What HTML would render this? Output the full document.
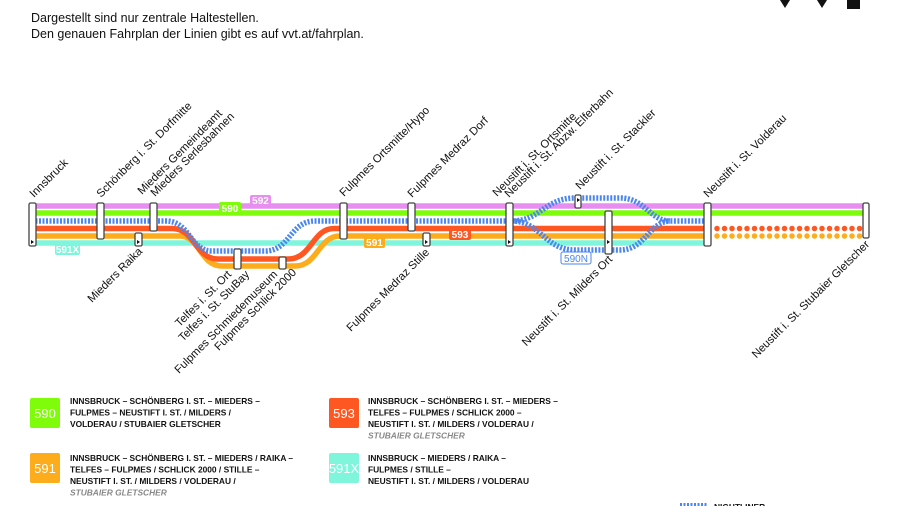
<!DOCTYPE html>
<html><head><meta charset="utf-8"><style>
html,body{margin:0;padding:0;background:#fff;width:900px;height:506px;overflow:hidden}
svg{display:block;font-family:"Liberation Sans Narrow","Liberation Sans",sans-serif}
.l{font-size:11.3px;fill:#111}
.g{font-size:8.4px;font-weight:bold;fill:#111}
.gi{font-size:8.4px;font-weight:bold;font-style:italic;fill:#888}
.n{font-size:13px;fill:#fff;text-anchor:middle}
</style></head><body>
<svg width="900" height="506" viewBox="0 0 900 506">
<text x="31" y="22" font-size="12.5" fill="#111">Dargestellt sind nur zentrale Haltestellen.</text>
<text x="31" y="38" font-size="12.5" fill="#111">Den genauen Fahrplan der Linien gibt es auf vvt.at/fahrplan.</text>
<polygon points="780,0 790,0 785,8" fill="#111"/><polygon points="817,0 827,0 822,8" fill="#111"/><rect x="847" y="0" width="13" height="9" fill="#111"/>

<g fill="none" stroke-width="5.5">
<line x1="32" y1="206" x2="866" y2="206" stroke="#e88ef0"/>
<line x1="32" y1="213" x2="866" y2="213" stroke="#7ffc0a"/>
<path d="M32 243 H707" stroke="#7ff5dc"/>
<path d="M32 236 H180 C200 236 200 266 222 266 H295 C318 266 318 236 340 236 H707" stroke="#fdac1c"/>
<path d="M32 228.5 H172 C195 228.5 195 259 218 259 H288 C312 259 312 228.5 334 228.5 H707" stroke="#ff5722"/>
<g stroke="#4b86f0" stroke-dasharray="2 1.5">
<path d="M32 221 H166 C190 221 190 251 212 251 H265 C290 251 290 221 315 221 H512 C540 221 545 198 575 198 H620 C645 198 650 221 670 221 H707"/>
<path d="M512 221 C540 221 545 250 575 250 H620 C645 250 650 221 670 221"/>
</g>
<line x1="717" y1="228.5" x2="862" y2="228.5" stroke="#ff5722" stroke-dasharray="0 7.5" stroke-linecap="round"/>
<line x1="717" y1="236" x2="862" y2="236" stroke="#fdac1c" stroke-dasharray="0 7.5" stroke-linecap="round"/>
</g>

<g fill="#fff" font-weight="bold">
<rect x="219" y="202" width="22" height="12" rx="2" fill="#7ffc0a"/><text x="230" y="212" font-size="10" text-anchor="middle">590</text>
<rect x="250" y="195" width="21" height="11" rx="2" fill="#e88ef0"/><text x="260.5" y="204" font-size="10" text-anchor="middle">592</text>
<rect x="55" y="244" width="25" height="11" rx="2" fill="#7ff5dc"/><text x="67.5" y="253" font-size="10" text-anchor="middle">591X</text>
<rect x="364" y="237" width="21" height="11" rx="2" fill="#fdac1c"/><text x="374.5" y="246" font-size="10" text-anchor="middle">591</text>
<rect x="449" y="229" width="22" height="11" rx="2" fill="#ff5722"/><text x="460" y="238" font-size="10" text-anchor="middle">593</text>
<rect x="561" y="252" width="30" height="12" rx="2" fill="#fff" stroke="#4b86f0"/><text x="576" y="262" font-size="10" text-anchor="middle" fill="#4b86f0" font-weight="normal">590N</text>
</g>

<g fill="#fff" stroke="#444" stroke-width="1.3">
<rect x="29" y="203" width="7" height="43" rx="1.5"/>
<rect x="97" y="203" width="7" height="36" rx="1.5"/>
<rect x="150" y="203" width="7" height="28" rx="1.5"/>
<rect x="135" y="233" width="7" height="13" rx="1.5"/>
<rect x="234" y="249" width="7" height="20" rx="1.5"/>
<rect x="279" y="257" width="7" height="12" rx="1.5"/>
<rect x="340" y="203" width="7" height="36" rx="1.5"/>
<rect x="408" y="203" width="7" height="28" rx="1.5"/>
<rect x="423" y="233" width="7" height="13" rx="1.5"/>
<rect x="506" y="203" width="7" height="43" rx="1.5"/>
<rect x="575" y="195" width="6" height="13" rx="1.5"/>
<rect x="605" y="211" width="7" height="43" rx="1.5"/>
<rect x="704" y="203" width="7" height="43" rx="1.5"/>
<rect x="863" y="203" width="6" height="35" rx="1.5"/>
</g>
<g fill="#111"><path d="M31 240l3 2-3 2z"/><path d="M137 240l3 2-3 2z"/><path d="M425 240l3 2-3 2z"/><path d="M508 240l3 2-3 2z"/><path d="M577 198l3 2-3 2z"/><path d="M607 240l3 2-3 2z"/></g>

<g class="l">
<text transform="translate(34,198) rotate(-45)">Innsbruck</text>
<text transform="translate(101,198) rotate(-45)">Schönberg i. St. Dorfmitte</text>
<text transform="translate(142,195) rotate(-45)">Mieders Gemeindeamt</text>
<text transform="translate(155,197) rotate(-45)">Mieders Serlesbahnen</text>
<text transform="translate(344,197) rotate(-45)">Fulpmes Ortsmitte/Hypo</text>
<text transform="translate(412,198) rotate(-45)">Fulpmes Medraz Dorf</text>
<text transform="translate(497,197) rotate(-45)">Neustift i. St. Ortsmitte</text>
<text transform="translate(509,198) rotate(-45)">Neustift i. St. Abzw. Elferbahn</text>
<text transform="translate(580,190) rotate(-45)">Neustift i. St. Stackler</text>
<text transform="translate(708,198) rotate(-45)">Neustift i. St. Volderau</text>
<g text-anchor="end">
<text transform="translate(143,252) rotate(-45)">Mieders Raika</text>
<text transform="translate(232,275) rotate(-45)">Telfes i. St. Ort</text>
<text transform="translate(250,275) rotate(-45)">Telfes i. St. StuBay</text>
<text transform="translate(278,275) rotate(-45)">Fulpmes Schmiedemuseum</text>
<text transform="translate(297,273) rotate(-45)">Fulpmes Schlick 2000</text>
<text transform="translate(430,253) rotate(-45)">Fulpmes Medraz Stille</text>
<text transform="translate(613,260) rotate(-45)">Neustift i. St. Milders Ort</text>
<text transform="translate(870,245) rotate(-45)">Neustift i. St. Stubaier Gletscher</text>
</g></g>

<rect x="30" y="398" width="30" height="30" rx="2" fill="#7ffc0a"/><text class="n" x="45" y="418">590</text>
<rect x="329" y="398" width="30" height="30" rx="2" fill="#ff5722"/><text class="n" x="344" y="418">593</text>
<rect x="30" y="453" width="30" height="30" rx="2" fill="#fdac1c"/><text class="n" x="45" y="473">591</text>
<rect x="329" y="453" width="30" height="30" rx="2" fill="#7ff5dc"/><text class="n" x="344" y="473">591X</text>
<g class="g">
<text x="70" y="404">INNSBRUCK – SCHÖNBERG I. ST. –  MIEDERS –</text>
<text x="70" y="415.5">FULPMES – NEUSTIFT I. ST. / MILDERS /</text>
<text x="70" y="427">VOLDERAU / STUBAIER GLETSCHER</text>
<text x="368" y="404">INNSBRUCK – SCHÖNBERG I. ST. – MIEDERS –</text>
<text x="368" y="415.5">TELFES – FULPMES / SCHLICK 2000 –</text>
<text x="368" y="427">NEUSTIFT I. ST. / MILDERS / VOLDERAU /</text>
<text class="gi" x="368" y="438.5">STUBAIER GLETSCHER</text>
<text x="70" y="461">INNSBRUCK – SCHÖNBERG I. ST. – MIEDERS / RAIKA –</text>
<text x="70" y="472.5">TELFES – FULPMES / SCHLICK 2000 / STILLE –</text>
<text x="70" y="484">NEUSTIFT I. ST. / MILDERS / VOLDERAU /</text>
<text class="gi" x="70" y="495.5">STUBAIER GLETSCHER</text>
<text x="368" y="461">INNSBRUCK  – MIEDERS / RAIKA  –</text>
<text x="368" y="472.5">FULPMES / STILLE  –</text>
<text x="368" y="484">NEUSTIFT I. ST. / MILDERS / VOLDERAU</text>
<text x="714" y="510">NIGHTLINER</text>
</g>
<line x1="680" y1="505" x2="708" y2="505" stroke="#4b86f0" stroke-width="4" stroke-dasharray="2 1.5"/>
</svg>
</body></html>
